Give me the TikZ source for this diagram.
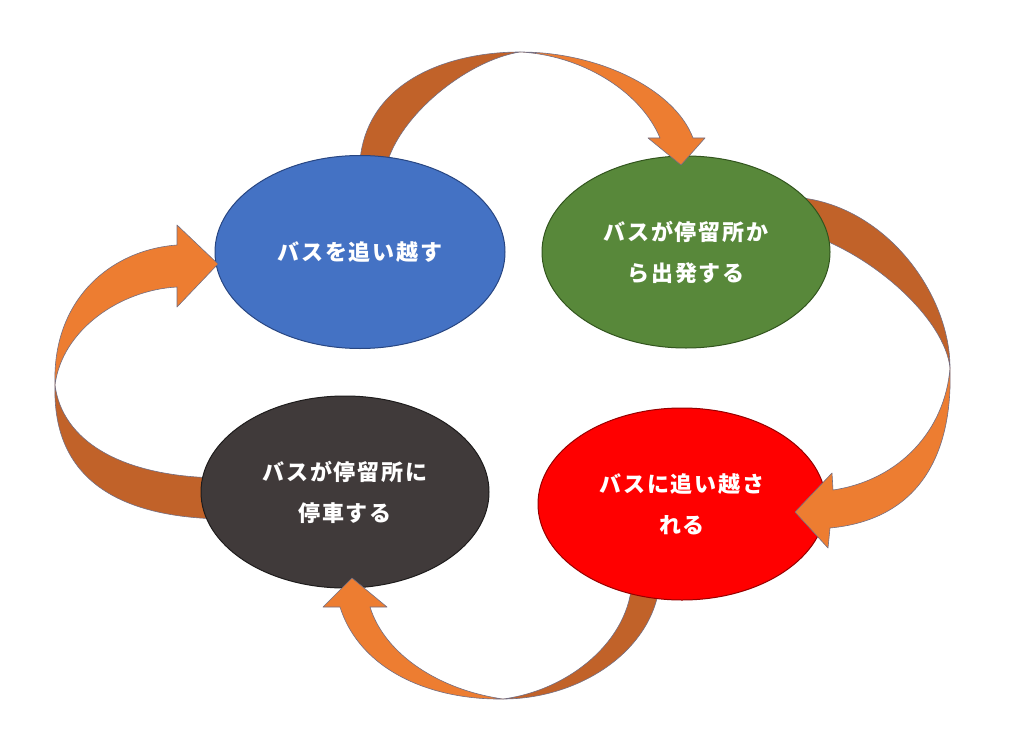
\documentclass[tikz,border=0pt]{standalone}
\usepackage{fontspec}
\newfontfamily\jpf{Noto Sans CJK JP}[LetterSpace=8]
\usetikzlibrary{shapes.geometric}
\definecolor{ordark}{RGB}{193,98,41}
\definecolor{orlight}{RGB}{237,125,49}
\definecolor{oredge}{RGB}{115,110,130}
\definecolor{cblue}{RGB}{68,114,196}
\definecolor{cbluee}{RGB}{40,70,130}
\definecolor{cgreen}{RGB}{88,136,58}
\definecolor{cgreene}{RGB}{50,85,30}
\definecolor{cred}{RGB}{255,0,0}
\definecolor{crede}{RGB}{150,0,0}
\definecolor{cgray}{RGB}{64,58,58}
\definecolor{cgraye}{RGB}{30,28,28}
\tikzset{
  bubble/.style={ellipse, minimum width=288pt, minimum height=192pt, inner sep=0pt,
    line width=1pt, text=white, align=center,
    font=\jpf\bfseries\fontsize{22}{41}\selectfont},
  backpart/.style={fill=ordark, draw=oredge, line width=0.6pt, line join=round},
  frontpart/.style={fill=orlight, draw=oredge, line width=0.6pt, line join=round}
}
\begin{document}
\begin{tikzpicture}[x=1pt,y=-1pt]
\useasboundingbox[fill=white] (0,0) rectangle (1024,754);
% back (tail) halves of the ribbon arrows
\draw[backpart] (360,160) .. controls (368,80) and (450,52) .. (520,52)
  .. controls (470,60) and (405,110) .. (388,160) -- cycle;
\draw[backpart] (790,197) .. controls (880,200) and (950,290) .. (950,368)
  .. controls (945,320) and (875,255) .. (805,233) -- cycle;
\draw[backpart] (55,385) .. controls (52,480) and (120,518) .. (225,519)
  -- (225,478) .. controls (120,478) and (62,440) .. (55,385) -- cycle;
\draw[backpart] (503,699) .. controls (580,699) and (655,650) .. (660,580)
  -- (632,580) .. controls (630,640) and (570,690) .. (503,699) -- cycle;
% ellipses
\node[bubble, fill=cblue, draw=cbluee, minimum width=290pt, minimum height=193pt] (pass) at (360,252) {バスを追い越す};
\node[bubble, fill=cgreen, draw=cgreene] (depart) at (686,252) {バスが停留所か\\ら出発する};
\node[bubble, fill=cred, draw=crede] (passed) at (682,504) {バスに追い越さ\\れる};
\node[bubble, fill=cgray, draw=cgraye] (stop) at (345,492) {バスが停留所に\\停車する};
% front (head) halves of the ribbon arrows
\draw[frontpart] (520,52) .. controls (600,52) and (675,90) .. (693,138)
  -- (705,138) -- (681,165) -- (648,138) -- (660,138)
  .. controls (640,90) and (580,55) .. (520,52) -- cycle;
\draw[frontpart] (950,368) .. controls (953,460) and (915,520) .. (830,528)
  -- (828,548) -- (795,512) -- (832,473) -- (833,490)
  .. controls (900,480) and (945,430) .. (950,368) -- cycle;
\draw[frontpart] (55,385) .. controls (52,300) and (110,250) .. (177,245)
  -- (177,225) -- (218,264) -- (177,307) -- (177,287)
  .. controls (120,290) and (62,330) .. (55,385) -- cycle;
\draw[frontpart] (503,699) .. controls (430,700) and (360,670) .. (340,607)
  -- (323,607) -- (352,578) -- (387,607) -- (370,607)
  .. controls (385,655) and (440,690) .. (503,699) -- cycle;
\end{tikzpicture}
\end{document}
